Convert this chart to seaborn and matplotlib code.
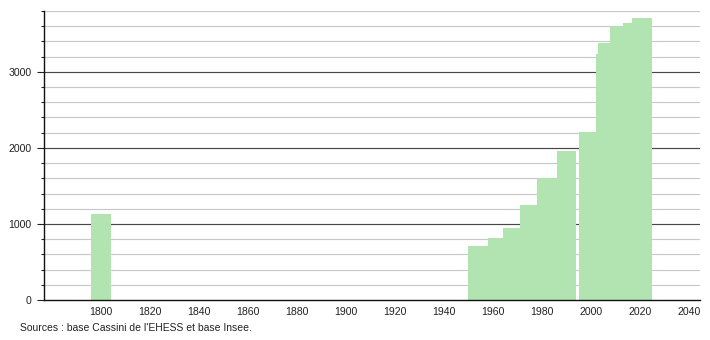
import matplotlib
matplotlib.use("Agg")
import matplotlib.pyplot as plt
import seaborn as sns
import pandas as pd
import numpy as np
from matplotlib.ticker import MultipleLocator

years = [1800, 1954, 1962, 1968, 1975, 1982, 1990, 1999, 2006, 2007, 2012, 2017, 2021]
population = [1130, 715, 812, 950, 1250, 1603, 1958, 2212, 3240, 3377, 3608, 3640, 3706]
x_ticks = [1800, 1820, 1840, 1860, 1880, 1900, 1920, 1940, 1960, 1980, 2000, 2020, 2040]
y_ticks = [0, 1000, 2000, 3000]
source_text = "Sources : base Cassini de l'EHESS et base Insee."

df = pd.DataFrame({"year": years, "population": population})

sns.set_theme(style="white")
plt.rcParams["font.family"] = ["Liberation Sans", "DejaVu Sans"]

fig = plt.figure(figsize=(7.1, 3.4), dpi=100)
ax = fig.add_axes([44 / 710, 40 / 340, 656 / 710, 289 / 340])

sns.barplot(data=df, x="year", y="population", native_scale=True, width=8,
            color="#b2e4b2", saturation=1, errorbar=None, linewidth=0, ax=ax)

ax.set_xlim(1776.6, 2044.6)
ax.set_ylim(0, 3800)
ax.set_axisbelow(True)

ax.set_xticks(x_ticks)
ax.set_xticklabels([str(t) for t in x_ticks])
ax.set_yticks(y_ticks)
ax.set_yticklabels([str(t) for t in y_ticks])
ax.yaxis.set_minor_locator(MultipleLocator(200))

ax.grid(False)
for v in np.arange(200, 3801, 200):
    if v % 1000 == 0:
        ax.axhline(v, color="#484848", lw=0.85, zorder=0)
    else:
        ax.axhline(v, color="#c8c8c8", lw=0.85, zorder=0)

ax.tick_params(axis="x", length=0, labelsize=7.6, colors="#222222", pad=5)
ax.tick_params(axis="y", which="major", length=5, width=0.8, labelsize=7.6,
               colors="#222222", left=True, pad=4)
ax.tick_params(axis="y", which="minor", length=2.5, width=0.8, left=True, color="#222222")

for s in ["top", "right"]:
    ax.spines[s].set_visible(False)
for s in ["left", "bottom"]:
    ax.spines[s].set_color("#111111")
    ax.spines[s].set_linewidth(1.0)

ax.set_xlabel("")
ax.set_ylabel("")

fig.text(20 / 710, 1 - 328 / 340, source_text, fontsize=7.5, color="#222222",
         ha="left", va="center")

fig.savefig("out.png", dpi=100)
